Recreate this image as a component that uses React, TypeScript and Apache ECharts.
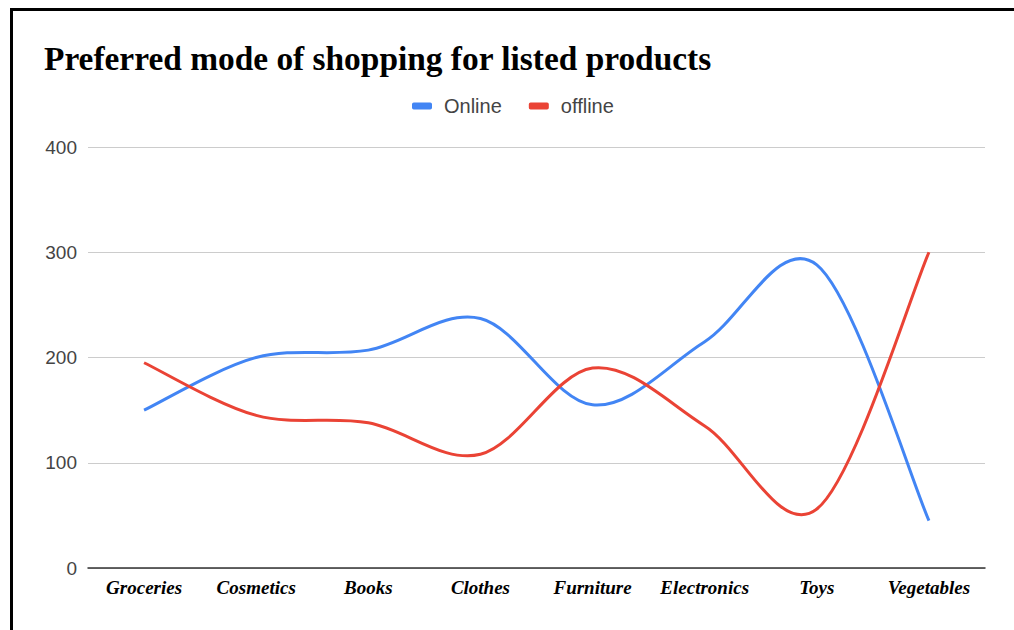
import React, { useEffect, useRef } from "react";
import * as echarts from "echarts";

const categories = ["Groceries", "Cosmetics", "Books", "Clothes", "Furniture", "Electronics", "Toys", "Vegetables"];
const onlineValues = [150, 200, 207, 237, 155, 215, 288, 45];
const offlineValues = [195, 145, 138, 108, 190, 135, 56, 300];
const seriesNames = ["Online", "offline"];
const seriesColors = ["#4285F4", "#EA4335"];
const yMin = 0;
const yMax = 400;
const yInterval = 100;

function curveSeries(name: string, values: number[], color: string) {
  return {
    name,
    type: "custom",
    data: values.map((v, i) => [i, v]),
    encode: { x: 0, y: 1 },
    itemStyle: { color },
    renderItem: (params: any, api: any) => {
      if (params.dataIndex !== 0) return null;
      const pts = values.map((v, i) => api.coord([i, v]));
      let d = `M${pts[0][0]},${pts[0][1]}`;
      for (let i = 0; i < pts.length - 1; i++) {
        const p0 = pts[i - 1] || pts[i];
        const p1 = pts[i];
        const p2 = pts[i + 1];
        const p3 = pts[i + 2] || pts[i + 1];
        const c1x = p1[0] + (p2[0] - p0[0]) / 6;
        const c1y = p1[1] + (p2[1] - p0[1]) / 6;
        const c2x = p2[0] - (p3[0] - p1[0]) / 6;
        const c2y = p2[1] - (p3[1] - p1[1]) / 6;
        d += ` C${c1x},${c1y} ${c2x},${c2y} ${p2[0]},${p2[1]}`;
      }
      return {
        type: "path",
        shape: { pathData: d },
        style: { stroke: color, lineWidth: 3, fill: "none", lineJoin: "round", lineCap: "butt" },
      };
    },
  };
}

export default function App() {
  const ref = useRef<HTMLDivElement>(null);
  useEffect(() => {
    document.body.style.margin = "0";
    const chart = echarts.init(ref.current!, undefined, { renderer: "svg" });
    chart.setOption({
      animation: false,
      title: {
        text: "Preferred mode of shopping for listed products",
        left: 39,
        top: 37,
        textStyle: {
          fontFamily: "'Liberation Serif', 'Times New Roman', serif",
          fontWeight: "bold",
          fontSize: 33.4,
          color: "#000",
        },
      },
      legend: {
        left: 407,
        top: 91,
        itemWidth: 20,
        itemHeight: 7,
        itemGap: 27,
        icon: "roundRect",
        textStyle: {
          fontFamily: "'Liberation Sans', Arial, sans-serif",
          fontSize: 20,
          color: "#444",
          padding: [0, 0, 0, 7],
        },
        data: seriesNames,
      },
      grid: { left: 88, right: 29, top: 147, bottom: 62, containLabel: false },
      xAxis: {
        type: "category",
        data: categories,
        boundaryGap: true,
        axisLine: { lineStyle: { color: "#333", width: 1.5 } },
        axisTick: { show: false },
        axisLabel: {
          interval: 0,
          margin: 10,
          fontFamily: "'Liberation Serif', 'Times New Roman', serif",
          fontWeight: "bold",
          fontStyle: "italic",
          fontSize: 19,
          color: "#000",
        },
      },
      yAxis: {
        type: "value",
        min: yMin,
        max: yMax,
        interval: yInterval,
        axisLine: { show: false },
        axisTick: { show: false },
        splitLine: { lineStyle: { color: "#ccc", width: 1 } },
        axisLabel: {
          margin: 11,
          fontFamily: "'Liberation Sans', Arial, sans-serif",
          fontSize: 19,
          color: "#444",
        },
      },
      series: [
        curveSeries(seriesNames[0], onlineValues, seriesColors[0]),
        curveSeries(seriesNames[1], offlineValues, seriesColors[1]),
      ],
    });
    return () => chart.dispose();
  }, []);

  return (
    <div style={{ position: "fixed", left: 0, top: 0, width: 1014, height: 630, background: "#fff" }}>
      <div
        style={{
          position: "absolute",
          left: 10,
          top: 8,
          width: 1004,
          height: 622,
          borderTop: "3px solid #000",
          borderLeft: "3px solid #000",
          boxSizing: "border-box",
        }}
      />
      <div ref={ref} style={{ position: "absolute", left: 0, top: 0, width: 1014, height: 630 }} />
    </div>
  );
}
